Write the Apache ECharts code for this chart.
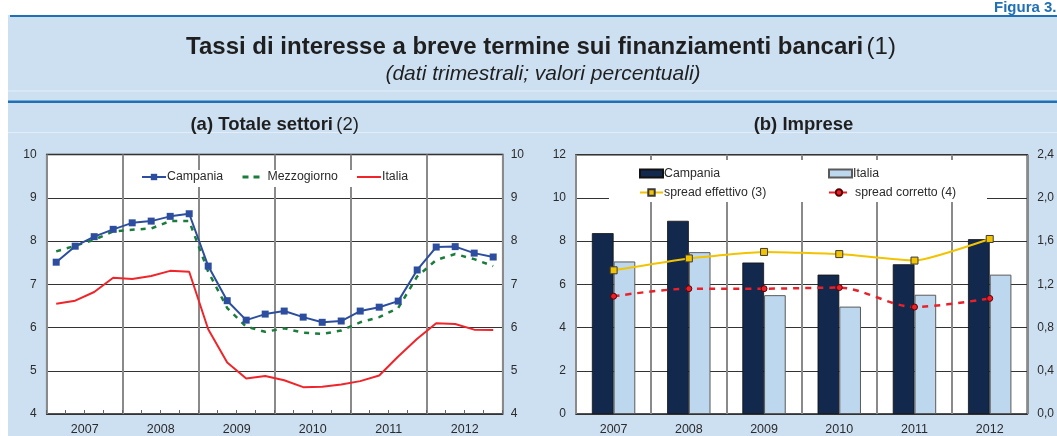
<!DOCTYPE html>
<html>
<head>
<meta charset="utf-8">
<script src="https://cdn.jsdelivr.net/npm/echarts@6/dist/echarts.min.js"></script>
<style>
html,body{margin:0;padding:0;background:#fff;}
#c{width:1057px;height:436px;}
</style>
</head>
<body>
<div id="c"></div>
<script>
// ---- data ----
var quarters = ['2007T1','2007T2','2007T3','2007T4','2008T1','2008T2','2008T3','2008T4',
  '2009T1','2009T2','2009T3','2009T4','2010T1','2010T2','2010T3','2010T4',
  '2011T1','2011T2','2011T3','2011T4','2012T1','2012T2','2012T3','2012T4'];
var years = ['2007','2008','2009','2010','2011','2012'];
var campaniaTot = [7.51,7.88,8.10,8.27,8.42,8.46,8.57,8.63,7.42,6.62,6.17,6.31,6.38,6.24,6.12,6.15,6.38,6.47,6.61,7.33,7.86,7.87,7.72,7.63];
var mezzogiornoTot = [7.76,7.89,8.03,8.22,8.26,8.29,8.46,8.46,7.29,6.45,6.02,5.90,5.98,5.88,5.85,5.93,6.12,6.24,6.45,7.18,7.56,7.70,7.58,7.42];
var italiaTot = [6.55,6.62,6.82,7.15,7.12,7.19,7.31,7.29,5.96,5.19,4.82,4.88,4.78,4.62,4.63,4.68,4.76,4.89,5.33,5.74,6.10,6.08,5.95,5.94];
var campaniaImp = [8.37,8.94,7.01,6.45,6.93,8.09];
var italiaImp = [7.06,7.49,5.50,4.97,5.52,6.45];
var spreadEffettivo = [1.33,1.44,1.50,1.48,1.42,1.62];
var spreadCorretto = [1.09,1.16,1.16,1.17,0.99,1.07];
var leftTicks = {min:4, max:10, interval:1};
var rightBarTicks = {min:0, max:12, interval:2};
var rightSpreadTicks = {min:0, max:2.4, interval:0.4};

var FONT = 'Liberation Sans, Arial, sans-serif';
var TXT = '#2b2b2b';
var BLUE = '#1f70b5';
var PANEL = '#cde0f2';

var chart = echarts.init(document.getElementById('c'), null, {renderer:'canvas'});

var G0 = {left:46.7, top:154.5, width:456, height:259.8};
var G1 = {left:576, top:154.7, width:453.3, height:259.6};

function yLab(){ return {fontFamily:FONT, fontSize:12, color:TXT}; }
function legTxt(p){ return {fontFamily:FONT, fontSize:12.3, color:TXT, padding:[0,0,0,p]}; }

var option = {
  backgroundColor: PANEL,
  animation: false,
  textStyle: {fontFamily: FONT},
  grid: [
    {left:G0.left, top:G0.top, width:G0.width, height:G0.height, show:true, backgroundColor:'#fff', borderColor:'#1a1a1a', borderWidth:1.5, containLabel:false},
    {left:G1.left, top:G1.top, width:G1.width, height:G1.height, show:true, backgroundColor:'#fff', borderColor:'#1a1a1a', borderWidth:1.5, containLabel:false}
  ],
  xAxis: [
    {type:'category', gridIndex:0, data:quarters, position:'bottom', boundaryGap:true,
      axisLine:{show:false}, axisLabel:{show:false},
      axisTick:{show:true, inside:true, length:4, interval:0, lineStyle:{color:'#666', width:1}},
      splitLine:{show:false}},
    {type:'category', gridIndex:0, data:years, position:'bottom', boundaryGap:true,
      axisLine:{show:false}, axisTick:{show:false},
      axisLabel:{show:true, margin:9, fontFamily:FONT, fontSize:12.5, color:TXT},
      splitLine:{show:true, lineStyle:{color:'#8a8a8a', width:2}}},
    {type:'category', gridIndex:1, data:years, position:'bottom', boundaryGap:true,
      axisLine:{show:false}, axisTick:{show:false},
      axisLabel:{show:true, margin:9, fontFamily:FONT, fontSize:12.5, color:TXT},
      splitLine:{show:true, lineStyle:{color:'#8a8a8a', width:2}}}
  ],
  yAxis: [
    {type:'value', gridIndex:0, position:'left', min:leftTicks.min, max:leftTicks.max, interval:leftTicks.interval,
      axisLine:{show:false}, axisTick:{show:false}, axisLabel:Object.assign(yLab(),{margin:10}),
      splitLine:{show:true, lineStyle:{color:'#333', width:1.2}}},
    {type:'value', gridIndex:0, position:'right', min:leftTicks.min, max:leftTicks.max, interval:leftTicks.interval,
      axisLine:{show:false}, axisTick:{show:false}, axisLabel:Object.assign(yLab(),{margin:8}),
      splitLine:{show:false}},
    {type:'value', gridIndex:1, position:'left', min:rightBarTicks.min, max:rightBarTicks.max, interval:rightBarTicks.interval,
      axisLine:{show:false}, axisTick:{show:false}, axisLabel:Object.assign(yLab(),{margin:10}),
      splitLine:{show:true, lineStyle:{color:'#333', width:1.2}}},
    {type:'value', gridIndex:1, position:'right', min:rightSpreadTicks.min, max:rightSpreadTicks.max, interval:rightSpreadTicks.interval,
      axisLine:{show:false}, axisTick:{show:false},
      axisLabel:Object.assign(yLab(),{margin:10, formatter:function(v){return v.toFixed(1).replace('.', ',');}}),
      splitLine:{show:false}}
  ],
  legend: [
    {left:141, top:171, padding:0, itemWidth:24, itemHeight:8, itemGap:0, data:['Campania'], textStyle:legTxt(-4)},
    {left:242.5, top:171, padding:0, itemWidth:17, itemHeight:3, itemGap:0,
      data:[{name:'Mezzogiorno', icon:'path://M0,0H6V3H0Z M11,0H17V3H11Z'}], textStyle:legTxt(3)},
    {left:357, top:171, padding:0, itemWidth:24, itemHeight:2, itemGap:0,
      data:[{name:'Italia', icon:'path://M0,0H24V2H0Z'}], textStyle:legTxt(-4)},
    {left:639, top:167.5, padding:0, itemWidth:23, itemHeight:8, itemGap:0, data:[{name:'Campania ', icon:'rect'}], textStyle:legTxt(-4)},
    {left:828, top:167.5, padding:0, itemWidth:23, itemHeight:8, itemGap:0, data:[{name:'Italia ', icon:'rect'}], textStyle:legTxt(-4)},
    {left:639, top:186.5, padding:0, itemWidth:23, itemHeight:8, itemGap:0, data:['spread effettivo (3)'], textStyle:legTxt(-4)},
    {left:828, top:186.5, padding:0, itemWidth:20, itemHeight:8, itemGap:0, data:['spread corretto (4)'], textStyle:legTxt(1)}
  ],
  graphic: [
    {type:'rect', z:0, silent:true, shape:{x:0, y:0, width:1057, height:15}, style:{fill:'#fff'}},
    {type:'rect', z:0, silent:true, shape:{x:0, y:0, width:8, height:436}, style:{fill:'#fff'}},
    {type:'rect', z:1, silent:true, shape:{x:10, y:15, width:1047, height:2}, style:{fill:BLUE}},
    {type:'rect', z:1, silent:true, shape:{x:8, y:100.5, width:1049, height:2.5}, style:{fill:BLUE}},
    {type:'rect', z:1, silent:true, shape:{x:8, y:90.5, width:1049, height:1}, style:{fill:'#e2edf8'}},
    {type:'rect', z:1, silent:true, shape:{x:8, y:132, width:1049, height:1}, style:{fill:'#e2edf8'}},
    {type:'text', z:1, silent:true, x:994, y:0, style:{text:'Figura 3.', fill:BLUE, font:'bold 15px ' + FONT, align:'left', verticalAlign:'top'}},
    {type:'text', z:1, silent:true, x:541, y:47, style:{
      text:'{b|Tassi di interesse a breve termine sui finanziamenti bancari} {n|(1)}',
      align:'center', verticalAlign:'middle',
      rich:{b:{font:'bold 24px ' + FONT, fill:'#1f1f1f'}, n:{font:'24px ' + FONT, fill:'#1f1f1f'}}}},
    {type:'text', z:1, silent:true, x:543, y:74.5, style:{text:'(dati trimestrali; valori percentuali)', fill:'#1f1f1f', font:'italic 21px ' + FONT, align:'center', verticalAlign:'middle'}},
    {type:'text', z:1, silent:true, x:274.7, y:125, style:{
      text:'{b|(a) Totale settori} {n|(2)}', align:'center', verticalAlign:'middle',
      rich:{b:{font:'bold 18.5px ' + FONT, fill:'#1f1f1f'}, n:{font:'18.5px ' + FONT, fill:'#1f1f1f'}}}},
    {type:'text', z:1, silent:true, x:803.5, y:125, style:{text:'(b) Imprese', fill:'#1f1f1f', font:'bold 18.5px ' + FONT, align:'center', verticalAlign:'middle'}},
    {type:'rect', z:3, silent:true, shape:{x:133, y:170, width:283, height:17}, style:{fill:'#fff'}},
    {type:'rect', z:3, silent:true, shape:{x:609, y:160, width:378, height:42}, style:{fill:'#fff'}}
  ],
  series: [
    {name:'Campania', type:'line', xAxisIndex:0, yAxisIndex:0, data:campaniaTot,
      symbol:'rect', symbolSize:7, color:'#2d4e9e', lineStyle:{width:2, color:'#2d4e9e'}, itemStyle:{color:'#2d4e9e'}, z:4},
    {name:'Mezzogiorno', type:'line', xAxisIndex:0, yAxisIndex:0, data:mezzogiornoTot,
      symbol:'none', color:'#1b7d3b', lineStyle:{width:2.5, type:[5,6], color:'#1b7d3b'}, z:3},
    {name:'Italia', type:'line', xAxisIndex:0, yAxisIndex:0, data:italiaTot,
      symbol:'none', color:'#f0252b', lineStyle:{width:2, color:'#f0252b'}, z:3},
    {name:'Campania ', type:'bar', xAxisIndex:2, yAxisIndex:2, data:campaniaImp, barWidth:21.7, barGap:'0%',
      itemStyle:{color:'#13284d', borderColor:'#111', borderWidth:0.8}},
    {name:'Italia ', type:'bar', xAxisIndex:2, yAxisIndex:2, data:italiaImp, barWidth:21.7, barGap:'0%',
      itemStyle:{color:'#bdd7ee', borderColor:'#5a5a5a', borderWidth:1}},
    {name:'spread effettivo (3)', type:'line', xAxisIndex:2, yAxisIndex:3, data:spreadEffettivo, smooth:0.15,
      symbol:'rect', symbolSize:7, color:'#f2c300', lineStyle:{width:2, color:'#f2c300'},
      itemStyle:{color:'#f2c300', borderColor:'#3a3a3a', borderWidth:1}, z:4},
    {name:'spread corretto (4)', type:'line', xAxisIndex:2, yAxisIndex:3, data:spreadCorretto, smooth:0.3,
      symbol:'circle', symbolSize:6, color:'#e8212b', lineStyle:{width:2.5, type:[6,6], color:'#e8212b'},
      itemStyle:{color:'#e8212b', borderColor:'#5a0000', borderWidth:1}, z:4}
  ]
};
chart.setOption(option);
</script>
</body>
</html>
